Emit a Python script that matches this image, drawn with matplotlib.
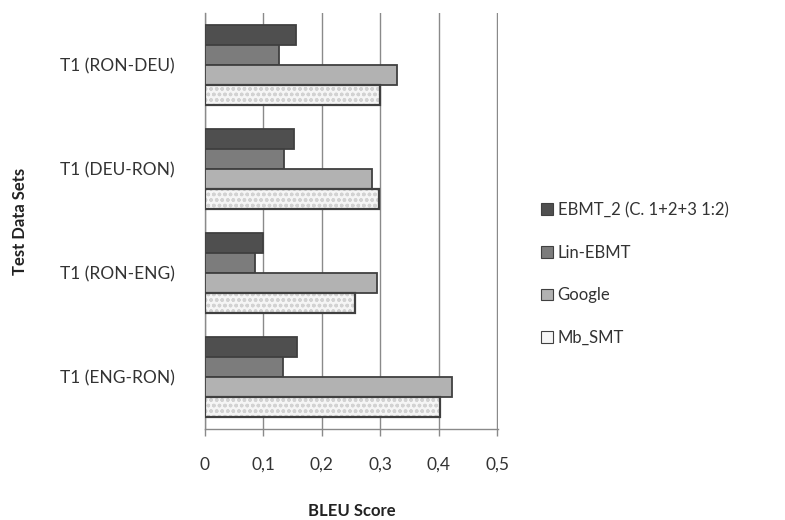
import matplotlib

matplotlib.use("Agg")

import matplotlib.pyplot as plt
import numpy as np
from matplotlib.patches import Patch

plt.rcParams["font.family"] = ["Lato", "DejaVu Sans"]

# test sets listed top to bottom
test_sets = ["T1 (RON-DEU)", "T1 (DEU-RON)", "T1 (RON-ENG)", "T1 (ENG-RON)"]
systems = ["EBMT_2 (C. 1+2+3 1:2)", "Lin-EBMT", "Google", "Mb_SMT"]
ebmt_2 = [0.155, 0.152, 0.100, 0.157]
lin_ebmt = [0.127, 0.136, 0.086, 0.134]
google = [0.328, 0.286, 0.295, 0.423]
mb_smt = [0.300, 0.298, 0.256, 0.402]
x_ticks = [0, 0.1, 0.2, 0.3, 0.4, 0.5]
x_tick_labels = ["0", "0,1", "0,2", "0,3", "0,4", "0,5"]

fills = ["#4f4f4f", "#7c7c7c", "#b2b2b2", "#f5f5f5"]
edge = "#404040"
grid_col = "#8a8a8a"

fig = plt.figure(figsize=(7.85, 5.2), dpi=100)
ax = fig.add_axes([205 / 785, 1 - 429 / 520, 293 / 785, 416 / 520])

n = len(test_sets)
centers = np.arange(n)[::-1] + 0.5
bar_h = 0.19
series = [ebmt_2, lin_ebmt, google, mb_smt]
for i, (name, vals, col) in enumerate(zip(systems, series, fills)):
    y = centers + (1.5 - i) * bar_h
    if name == "Mb_SMT":
        # speckled light fill, then the dark outline on top
        ax.barh(y, vals, height=bar_h, color=col, edgecolor="#d2d2d2",
                hatch="ooo", linewidth=0, zorder=3)
        ax.barh(y, vals, height=bar_h, fill=False, edgecolor=edge,
                linewidth=1.6, zorder=4)
    else:
        ax.barh(y, vals, height=bar_h, color=col, edgecolor=edge,
                linewidth=1.3, zorder=3)

ax.set_xlim(0, 0.5015)
ax.set_ylim(0, n)
ax.set_xticks(x_ticks)
ax.set_xticklabels(x_tick_labels, fontsize=12.5, color="#333333")
ax.set_yticks(centers)
ax.set_yticklabels(test_sets, fontsize=12.5, color="#333333")
ax.tick_params(axis="y", length=0, pad=22)
ax.tick_params(axis="x", length=5, width=1, color=grid_col, pad=15)
ax.grid(axis="x", color=grid_col, linewidth=1, zorder=0)
for side in ("top", "right"):
    ax.spines[side].set_visible(False)
for side in ("left", "bottom"):
    ax.spines[side].set_color(grid_col)
    ax.spines[side].set_linewidth(1)

ax.set_xlabel("BLEU Score", fontsize=12, fontweight="bold", color="#222222",
              va="center")
ax.set_ylabel("Test Data Sets", fontsize=12, fontweight="bold", color="#222222",
              va="center")
ax.xaxis.set_label_coords(0.5, (429 - 511) / 416)
ax.yaxis.set_label_coords((20 - 205) / 293, 0.5)

handles = [Patch(facecolor=c, edgecolor=edge, linewidth=0.8) for c in fills]
fig.legend(handles, systems, loc="center left", bbox_to_anchor=(526 / 785, 1 - 274 / 520),
           frameon=False, fontsize=12, labelspacing=1.6, handlelength=0.7,
           handleheight=0.7, handletextpad=0.3, labelcolor="#333333")

fig.savefig("out.png", dpi=100)
